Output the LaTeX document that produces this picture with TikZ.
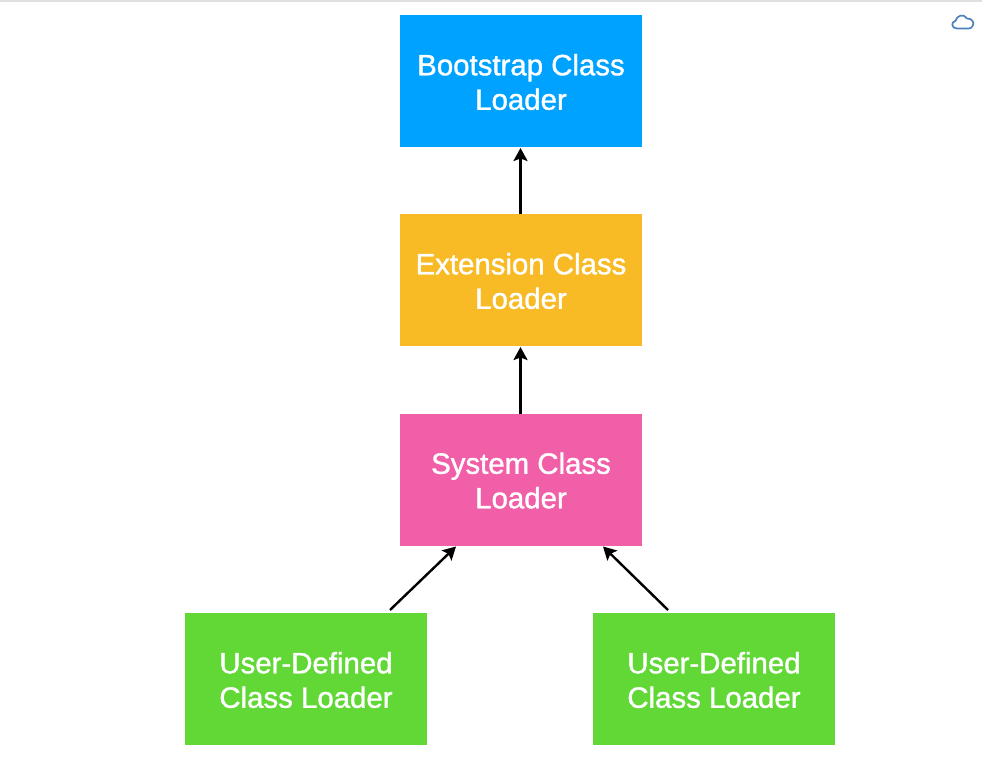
\documentclass[tikz,border=0pt]{standalone}
\usepackage{fontspec}
\newfontfamily\medfont{Liberation Sans}[BoldFont=Liberation Sans,BoldFeatures={FakeBold=1.2}]
\setmainfont{Liberation Sans}
\usetikzlibrary{arrows.meta}
\definecolor{cblue}{HTML}{00A2FF}
\definecolor{cyellow}{HTML}{F8BA25}
\definecolor{cpink}{HTML}{F15FA8}
\definecolor{cgreen}{HTML}{61D836}
\definecolor{ccloud}{HTML}{4F81BD}
\newcommand{\loadertext}[2]{\raisebox{-1pt}[\height][\depth]{\parbox{242pt}{\centering #1\\#2}}}
\tikzset{
  loader/.style={minimum width=242pt,minimum height=132pt,inner sep=0pt,outer sep=0pt,
    text=white,align=center,font=\medfont\bfseries\fontsize{29.4}{34.5}\selectfont},
  link/.style={line width=2.4pt,-{Stealth[length=13pt,width=14pt,inset=2.5pt]},black}
}
\begin{document}
\begin{tikzpicture}[x=1pt,y=-1pt]
\useasboundingbox (0,0) rectangle (982,770);
\fill[white] (0,0) rectangle (982,770);
\fill[black!12] (0,0) rectangle (982,2);
\node[loader,fill=cblue] (boot) at (521,81) {\loadertext{Bootstrap Class}{Loader}};
\node[loader,fill=cyellow] (ext) at (521,280) {\loadertext{Extension Class}{Loader}};
\node[loader,fill=cpink] (sys) at (521,479.5) {\loadertext{System Class}{Loader}};
\node[loader,fill=cgreen] (uone) at (306,679) {\loadertext{User-Defined}{Class Loader}};
\node[loader,fill=cgreen] (utwo) at (714,679) {\loadertext{User-Defined}{Class Loader}};
\coordinate (bootin) at ([xshift=-0.5pt,yshift=-1pt]boot.south);
\coordinate (extin) at ([xshift=-0.5pt,yshift=-1pt]ext.south);
\coordinate (extout) at ([xshift=-0.5pt]ext.north);
\coordinate (sysout) at ([xshift=-0.5pt]sys.north);
\coordinate (sysinl) at ([xshift=56pt,yshift=-1pt]sys.south west);
\coordinate (sysinr) at ([xshift=-39pt,yshift=-1pt]sys.south east);
\coordinate (uoneout) at ([xshift=84pt,yshift=3pt]uone.north);
\coordinate (utwoout) at ([xshift=-46pt,yshift=3pt]utwo.north);
\draw[link] (extout) -- (bootin);
\draw[link] (sysout) -- (extin);
\draw[link] (uoneout) -- (sysinl);
\draw[link] (utwoout) -- (sysinr);
\draw[ccloud,line width=1.7pt,line join=round]
  (957,28.5) .. controls (951.5,28.5) and (950.5,22) .. (955.5,20.8)
  .. controls (957,15.5) and (963.5,13) .. (967,18.5)
  .. controls (972,18) and (975,23) .. (972.5,26.2)
  .. controls (971.5,28) and (970,28.5) .. (968.5,28.5) -- cycle;
\end{tikzpicture}
\end{document}
